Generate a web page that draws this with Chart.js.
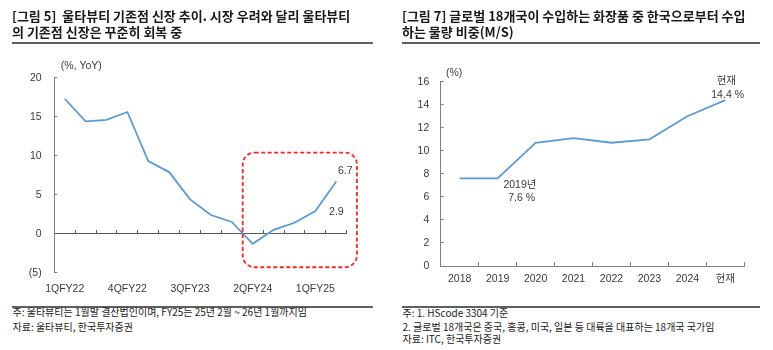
<!DOCTYPE html>
<html><head><meta charset="utf-8">
<script src="https://cdn.jsdelivr.net/npm/chart.js@4/dist/chart.umd.min.js"></script>
<style>
html,body{margin:0;padding:0;background:#fff;width:773px;height:350px;overflow:hidden;}
.abs{position:absolute;}
.title{font-family:"Noto Sans CJK KR",sans-serif;font-weight:700;font-size:13px;color:#1a1a1a;line-height:16.3px;white-space:nowrap;z-index:2;}
.bar{position:absolute;background:#5f5f5f;z-index:2;}
.note{position:absolute;font-family:"Noto Sans CJK KR",sans-serif;font-size:10px;color:#222;line-height:12px;white-space:nowrap;z-index:2;}
.cv{position:absolute;top:0;z-index:1;}
</style></head><body>
<div class="abs title" style="left:12px;top:7.5px">[그림 5]&nbsp; 울타뷰티 기존점 신장 추이. 시장 우려와 달리 울타뷰티<br>의 기존점 신장은 꾸준히 회복 중</div>
<div class="abs title" style="left:402px;top:7.5px">[그림 7] 글로벌 18개국이 수입하는 화장품 중 한국으로부터 수입<br>하는 물량 비중(M/S)</div>
<div class="bar" style="left:12px;top:41.5px;width:361px;height:2.5px"></div>
<div class="bar" style="left:402px;top:41.5px;width:358px;height:2.5px"></div>
<div class="bar" style="left:12px;top:305.8px;width:361px;height:2px"></div>
<div class="bar" style="left:402px;top:305.8px;width:358px;height:2px"></div>
<div class="note" style="left:12.5px;top:306px">주: 울타뷰티는 1월말 결산법인이며, FY25는 25년 2월 ~ 26년 1월까지임</div>
<div class="note" style="left:12.5px;top:321px">자료: 울타뷰티, 한국투자증권</div>
<div class="note" style="left:402.5px;top:306.5px">주: 1. HScode 3304 기준</div>
<div class="note" style="left:402.5px;top:320.5px">2. 글로벌 18개국은 중국, 홍콩, 미국, 일본 등 대륙을 대표하는 18개국 국가임</div>
<div class="note" style="left:402.5px;top:333px">자료: ITC, 한국투자증권</div>
<canvas id="c1" class="cv" style="left:0px" width="390" height="300"></canvas>
<canvas id="c2" class="cv" style="left:390px" width="383" height="300"></canvas>
<script>
// ---- data: left chart ----
const leftCategories = ['1QFY22','2QFY22','3QFY22','4QFY22','1QFY23','2QFY23','3QFY23','4QFY23','1QFY24','2QFY24','3QFY24','4QFY24','1QFY25','2QFY25'];
const leftValues = [17.3, 14.4, 14.6, 15.6, 9.3, 7.9, 4.4, 2.4, 1.5, -1.3, 0.5, 1.4, 2.9, 6.7];
const leftShownLabels = ['1QFY22','4QFY22','3QFY23','2QFY24','1QFY25'];
const leftYTicks = [-5, 0, 5, 10, 15, 20];
// ---- data: right chart ----
const rightCategories = ['2018','2019','2020','2021','2022','2023','2024','현재'];
const rightValues = [7.6, 7.6, 10.7, 11.1, 10.7, 11.0, 13.0, 14.4];
const rightYTicks = [0, 2, 4, 6, 8, 10, 12, 14, 16];

const FONT = '"Liberation Sans", Arial, "Noto Sans CJK KR", sans-serif';
const TXT = '#3a3a3a';
const AX = '#808080';
const LINE = '#5B9BD5';
Chart.defaults.font.family = FONT;
Chart.defaults.font.size = 10.5;
Chart.defaults.color = TXT;

function txt(ctx, s, x, y, align) {
  ctx.save();
  ctx.font = '10.5px ' + FONT;
  ctx.fillStyle = TXT;
  ctx.textAlign = align || 'center';
  ctx.textBaseline = 'middle';
  ctx.fillText(s, x, y);
  ctx.restore();
}

const leftAnno = {
  id: 'leftAnno',
  afterDraw(chart) {
    const ctx = chart.ctx, xs = chart.scales.x, ys = chart.scales.y, ca = chart.chartArea;
    const step = xs.getPixelForValue(1) - xs.getPixelForValue(0);
    txt(ctx, '(%, YoY)', ca.left + 6.5, ca.top - 12, 'left');
    const n = leftValues.length;
    txt(ctx, leftValues[n-1].toFixed(1), xs.getPixelForValue(n-1) + 9, ys.getPixelForValue(leftValues[n-1]) - 10);
    txt(ctx, leftValues[n-2].toFixed(1), xs.getPixelForValue(n-2) + 21, ys.getPixelForValue(leftValues[n-2]) + 1.5);
    // highlight box
    const x0 = xs.getPixelForValue(9) - 0.48 * step;
    const x1 = xs.getPixelForValue(13) + 0.99 * step;
    const y0 = ys.getPixelForValue(10.4);
    const y1 = ys.getPixelForValue(-4.3);
    ctx.save();
    ctx.strokeStyle = '#F02828';
    ctx.lineWidth = 1.8;
    ctx.setLineDash([4, 2.5]);
    ctx.beginPath();
    ctx.roundRect(x0, y0, x1 - x0, y1 - y0, 12);
    ctx.stroke();
    ctx.restore();
  }
};

new Chart(document.getElementById('c1'), {
  type: 'line',
  data: {
    labels: leftCategories,
    datasets: [{ data: leftValues, borderColor: LINE, borderWidth: 1.8, pointRadius: 0, tension: 0, xAxisID: 'x', yAxisID: 'y' }]
  },
  options: {
    responsive: false, animation: false, devicePixelRatio: 1,
    layout: { padding: { top: 77.7, right: 43.3, bottom: 0, left: 0 } },
    plugins: { legend: { display: false }, tooltip: { enabled: false } },
    scales: {
      x: {
        type: 'category', position: 'bottom', offset: true,
        border: { display: false },
        grid: { display: false },
        ticks: { autoSkip: false, maxRotation: 0, padding: 2, color: TXT,
          callback: function(v, i) { const l = leftCategories[i]; return leftShownLabels.includes(l) ? l : ''; } },
        afterFit: s => { s.height = 27.3; }
      },
      x0: {
        type: 'category', position: { y: 0 }, offset: true,
        border: { display: true, color: '#5a5a5a', width: 1 },
        grid: { display: true, drawOnChartArea: false, drawTicks: true, tickLength: -4, offset: true, color: '#5a5a5a' },
        ticks: { display: false }
      },
      y: {
        min: -5, max: 20,
        border: { display: true, color: AX, width: 1 },
        grid: { display: true, drawOnChartArea: false, drawTicks: true, tickLength: -3, color: AX },
        afterBuildTicks: s => { s.ticks = leftYTicks.map(v => ({ value: v })); },
        ticks: { padding: 15.6, color: TXT, callback: v => v < 0 ? '(' + (-v) + ')' : String(v) },
        afterFit: s => { s.width = 54.3; }
      }
    }
  },
  plugins: [leftAnno]
});

const rightAnno = {
  id: 'rightAnno',
  afterDraw(chart) {
    const ctx = chart.ctx, xs = chart.scales.x, ys = chart.scales.y, ca = chart.chartArea;
    txt(ctx, '(%)', ca.left + 5.3, ca.top - 9, 'left');
    const n = rightValues.length;
    const px = xs.getPixelForValue(n-1), py = ys.getPixelForValue(rightValues[n-1]);
    txt(ctx, rightCategories[n-1], px + 1, py - 19.4);
    txt(ctx, rightValues[n-1].toFixed(1) + ' %', px + 2.3, py - 5);
    const qx = xs.getPixelForValue(1), qy = ys.getPixelForValue(rightValues[1]);
    txt(ctx, rightCategories[1] + '년', qx + 22.3, qy + 6.6);
    txt(ctx, rightValues[1].toFixed(1) + ' %', qx + 24, qy + 19.6);
  }
};

new Chart(document.getElementById('c2'), {
  type: 'line',
  data: {
    labels: rightCategories,
    datasets: [{ data: rightValues, borderColor: LINE, borderWidth: 1.8, pointRadius: 0, tension: 0 }]
  },
  options: {
    responsive: false, animation: false, devicePixelRatio: 1,
    layout: { padding: { top: 81.7, right: 28.7, bottom: 0, left: 0 } },
    plugins: { legend: { display: false }, tooltip: { enabled: false } },
    scales: {
      x: {
        type: 'category', position: 'bottom', offset: true,
        border: { display: true, color: AX, width: 1 },
        grid: { display: true, drawOnChartArea: false, drawTicks: true, tickLength: -4, offset: true, color: AX },
        ticks: { autoSkip: false, maxRotation: 0, padding: 11, color: TXT },
        afterFit: s => { s.height = 34; }
      },
      y: {
        min: 0, max: 16,
        border: { display: true, color: AX, width: 1 },
        grid: { display: true, drawOnChartArea: false, drawTicks: true, tickLength: -3, color: AX },
        afterBuildTicks: s => { s.ticks = rightYTicks.map(v => ({ value: v })); },
        ticks: { padding: 14.4, color: TXT },
        afterFit: s => { s.width = 50.7; }
      }
    }
  },
  plugins: [rightAnno]
});
</script>
</body></html>
